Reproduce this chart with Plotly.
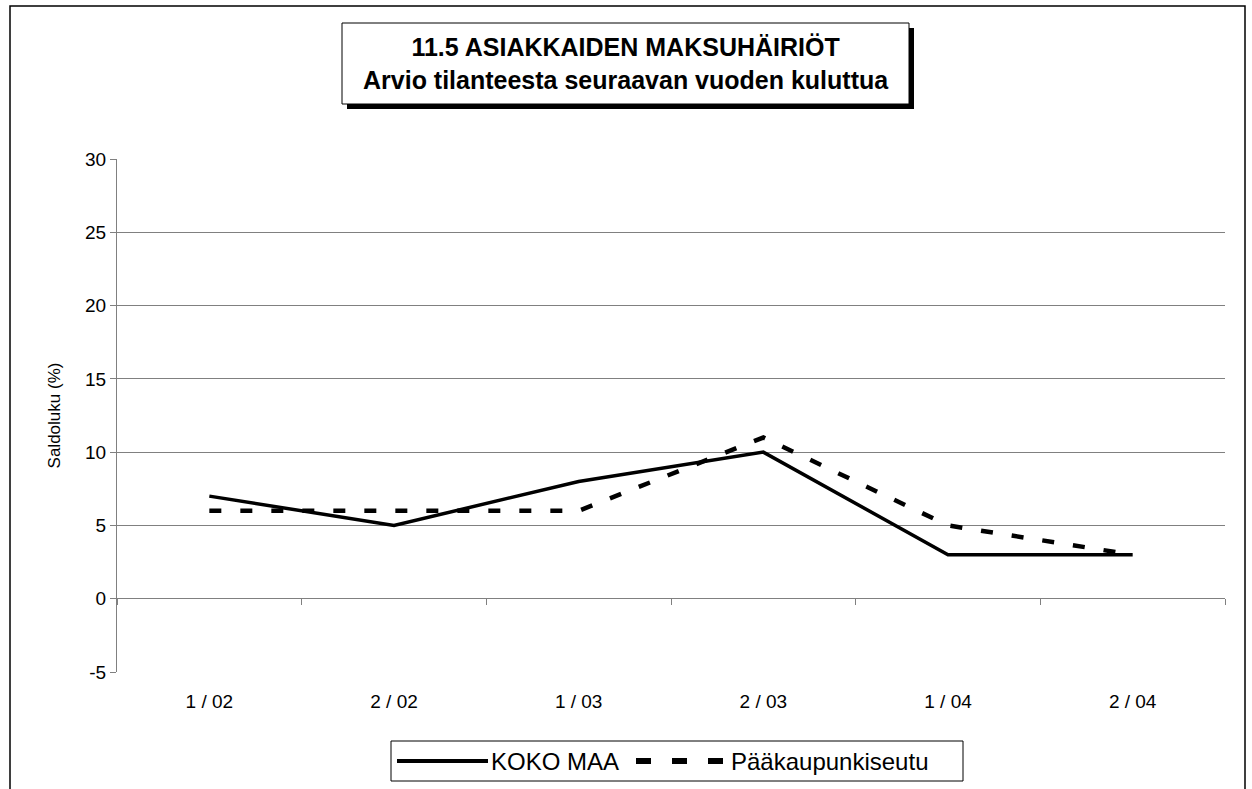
import plotly.graph_objects as go

categories = ["1 / 02", "2 / 02", "1 / 03", "2 / 03", "1 / 04", "2 / 04"]
koko_maa = [7, 5, 8, 10, 3, 3]
paakaupunkiseutu = [6, 6, 6, 11, 5, 3]
y_ticks = [-5, 0, 5, 10, 15, 20, 25, 30]
series_names = ["KOKO MAA", "Pääkaupunkiseutu"]

W, H = 1252, 789
L, R, T, B = 117, 1225, 159, 672


def px(x):
    return (x - L) / (R - L)


def py(y):
    return (B - y) / (B - T)


FONT = "Liberation Sans, Arial, sans-serif"
SOLID = dict(color="black", width=3.5)
DASHED = dict(color="black", width=4.5, dash="12px,19px")
xpos = list(range(len(categories)))

fig = go.Figure()
fig.add_trace(go.Scatter(x=xpos, y=koko_maa, mode="lines", name=series_names[0], line=SOLID))
fig.add_trace(go.Scatter(x=xpos, y=paakaupunkiseutu, mode="lines", name=series_names[1], line=DASHED))
# invisible trace anchoring the category axis drawn at y = 0
fig.add_trace(go.Scatter(x=[xpos[0]], y=[0], xaxis="x2", mode="lines",
                         showlegend=False, hoverinfo="skip", line=dict(width=0)))

shapes = [
    # outer frame
    dict(type="rect", xref="paper", yref="paper", x0=px(10), x1=px(1245), y0=py(800), y1=py(6),
         line=dict(color="black", width=1.5), layer="below"),
    # title shadow + box
    dict(type="rect", xref="paper", yref="paper", x0=px(347), x1=px(914), y0=py(109), y1=py(28),
         line=dict(width=0), fillcolor="black"),
    dict(type="rect", xref="paper", yref="paper", x0=px(342), x1=px(909), y0=py(104), y1=py(23),
         line=dict(color="black", width=1), fillcolor="white"),
    # legend box
    dict(type="rect", xref="paper", yref="paper", x0=px(391), x1=px(963), y0=py(781), y1=py(741),
         line=dict(color="black", width=1), fillcolor="white"),
    # legend samples
    dict(type="line", xref="paper", yref="paper", x0=px(397), x1=px(488), y0=py(761), y1=py(761),
         line=dict(color="black", width=4)),
    dict(type="line", xref="paper", yref="paper", x0=px(636), x1=px(723), y0=py(761), y1=py(761),
         line=dict(color="black", width=6, dash="15px,21px")),
]

annotations = [
    dict(xref="paper", yref="paper", x=px(625.5), y=py(63.5), xanchor="center",
         yanchor="middle", showarrow=False,
         text="<b>11.5 ASIAKKAIDEN MAKSUHÄIRIÖT<br>Arvio tilanteesta seuraavan vuoden kuluttua</b>",
         font=dict(size=25, family=FONT, color="black")),
    dict(xref="paper", yref="paper", x=px(489), y=py(761), xanchor="left", yanchor="middle",
         showarrow=False, text=series_names[0], font=dict(size=24, family=FONT, color="black")),
    dict(xref="paper", yref="paper", x=px(729), y=py(761), xanchor="left", yanchor="middle",
         showarrow=False, text=series_names[1], font=dict(size=24, family=FONT, color="black")),
]

fig.update_layout(
    width=W, height=H,
    margin=dict(l=L, r=W - R, t=T, b=H - B),
    paper_bgcolor="white", plot_bgcolor="white",
    font=dict(family=FONT, color="black", size=17),
    showlegend=False,
    xaxis=dict(range=[-0.5, 5.5], tickvals=xpos, ticktext=categories, showgrid=False,
               zeroline=False, showline=False, ticks="", tickfont=dict(size=19),
               ticklabelstandoff=16, fixedrange=True),
    xaxis2=dict(range=[-0.5, 5.5], overlaying="x", anchor="free", position=py(598),
                side="bottom", showline=True, linecolor="#808080", linewidth=1,
                ticks="outside", ticklen=6, tickcolor="#808080",
                tickvals=[i - 0.5 for i in range(len(categories) + 1)],
                showticklabels=False, showgrid=False, zeroline=False),
    yaxis=dict(range=[-5, 30], tickvals=y_ticks, ticktext=[str(v) for v in y_ticks],
               showgrid=True, gridcolor="#808080",
               gridwidth=1, zeroline=False, showline=True, linecolor="#808080",
               linewidth=1, ticks="outside", ticklen=6, tickcolor="#808080",
               tickfont=dict(size=19),
               title=dict(text="Saldoluku (%)", font=dict(size=17), standoff=20)),
    shapes=shapes,
    annotations=annotations,
)

fig.write_html("out.html", config={"displayModeBar": False},
               post_script="document.body.style.margin='0';")
